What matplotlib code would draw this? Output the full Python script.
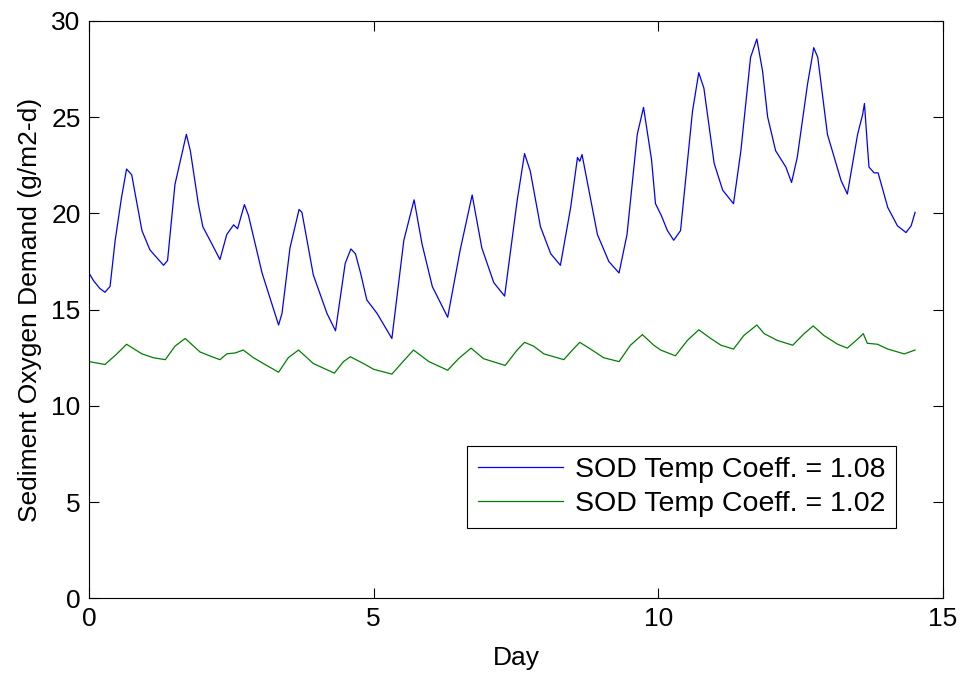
import matplotlib
matplotlib.use("Agg")
import matplotlib.pyplot as plt

plt.rcParams['font.family'] = ['Liberation Sans', 'DejaVu Sans']

# SOD time series, temperature coefficient 1.08
day_108 = [0.00, 0.08, 0.19, 0.28, 0.37, 0.46, 0.57, 0.66, 0.75, 0.93, 1.07, 1.19,
           1.31, 1.38, 1.51, 1.71, 1.78, 1.92, 2.00, 2.16, 2.30, 2.42, 2.54, 2.61,
           2.73, 2.80, 3.04, 3.33, 3.39, 3.53, 3.69, 3.74, 3.94, 4.18, 4.33, 4.50,
           4.60, 4.68, 4.77, 4.88, 5.06, 5.32, 5.53, 5.71, 5.85, 6.03, 6.30, 6.52,
           6.73, 6.90, 7.11, 7.30, 7.52, 7.65, 7.75, 7.93, 8.11, 8.28, 8.46, 8.58,
           8.62, 8.66, 8.93, 9.13, 9.31, 9.45, 9.63, 9.74, 9.88, 9.95, 10.05, 10.16,
           10.27, 10.39, 10.60, 10.71, 10.80, 10.98, 11.13, 11.32, 11.45, 11.62, 11.73, 11.83,
           11.92, 12.06, 12.24, 12.34, 12.44, 12.62, 12.73, 12.80, 12.97, 13.21, 13.32, 13.50,
           13.59, 13.62, 13.67, 13.70, 13.79, 13.86, 14.03, 14.20, 14.35, 14.44, 14.51]
sod_108 = [16.9, 16.5, 16.1, 15.9, 16.2, 18.6, 20.8, 22.3, 22.0, 19.1, 18.1, 17.7,
           17.3, 17.55, 21.5, 24.1, 23.25, 20.5, 19.3, 18.4, 17.6, 18.9, 19.4, 19.2,
           20.45, 19.9, 16.9, 14.2, 14.8, 18.2, 20.2, 20.05, 16.8, 14.8, 13.9, 17.4,
           18.15, 17.9, 16.9, 15.5, 14.8, 13.5, 18.6, 20.7, 18.4, 16.2, 14.6, 18.1,
           20.95, 18.2, 16.4, 15.7, 20.65, 23.1, 22.2, 19.3, 17.9, 17.3, 20.3, 22.9,
           22.7, 23.05, 18.9, 17.5, 16.9, 18.9, 24.1, 25.5, 22.8, 20.5, 19.9, 19.1,
           18.6, 19.1, 25.3, 27.3, 26.5, 22.6, 21.2, 20.5, 23.25, 28.1, 29.05, 27.4,
           25.0, 23.25, 22.4, 21.6, 22.9, 26.7, 28.6, 28.1, 24.1, 21.7, 21.0, 24.1,
           25.15, 25.7, 23.6, 22.4, 22.1, 22.1, 20.3, 19.35, 19.0, 19.35, 20.05]

# SOD time series, temperature coefficient 1.02
day_102 = [0.00, 0.28, 0.49, 0.66, 0.93, 1.13, 1.34, 1.51, 1.69, 1.95, 2.16, 2.30,
           2.42, 2.57, 2.71, 2.89, 3.12, 3.33, 3.50, 3.68, 3.94, 4.31, 4.47, 4.59,
           4.82, 5.00, 5.32, 5.53, 5.70, 5.97, 6.30, 6.49, 6.71, 6.93, 7.31, 7.52,
           7.65, 7.81, 7.99, 8.34, 8.49, 8.62, 8.81, 9.04, 9.31, 9.51, 9.72, 9.92,
           10.04, 10.30, 10.51, 10.71, 10.92, 11.10, 11.32, 11.50, 11.73, 11.86, 12.09, 12.36,
           12.56, 12.72, 12.91, 13.15, 13.32, 13.53, 13.60, 13.67, 13.85, 14.03, 14.32, 14.51]
sod_102 = [12.3, 12.15, 12.7, 13.2, 12.7, 12.5, 12.4, 13.1, 13.5, 12.8, 12.55, 12.4,
           12.7, 12.75, 12.9, 12.5, 12.1, 11.75, 12.5, 12.9, 12.2, 11.7, 12.3, 12.55,
           12.2, 11.9, 11.65, 12.35, 12.9, 12.3, 11.85, 12.45, 13.0, 12.45, 12.1, 12.9,
           13.3, 13.1, 12.7, 12.4, 12.9, 13.3, 12.95, 12.5, 12.3, 13.15, 13.7, 13.15,
           12.9, 12.6, 13.4, 13.95, 13.5, 13.15, 12.95, 13.65, 14.2, 13.75, 13.4, 13.15,
           13.75, 14.15, 13.65, 13.2, 13.0, 13.55, 13.75, 13.25, 13.2, 12.95, 12.7, 12.9]

series_labels = ['SOD Temp Coeff. = 1.08', 'SOD Temp Coeff. = 1.02']
x_ticks = [0, 5, 10, 15]
y_ticks = [0, 5, 10, 15, 20, 25, 30]

fig = plt.figure(figsize=(9.6, 6.77), dpi=100)
ax = fig.add_axes([0.0927, 0.116, 0.8896, 0.8534])

ax.plot(day_108, sod_108, color='#0000ff', linewidth=0.9, label=series_labels[0])
ax.plot(day_102, sod_102, color='#008000', linewidth=0.9, label=series_labels[1])

ax.set_xlim(0, 15)
ax.set_ylim(0, 30)
ax.set_xticks(x_ticks)
ax.set_yticks(y_ticks)
ax.tick_params(direction='in', length=7, width=0.8, top=True, right=True,
               labelsize=19, pad=6)
for spine in ax.spines.values():
    spine.set_linewidth(0.8)

ax.set_xlabel('Day', fontsize=19, labelpad=11)
ax.set_ylabel('Sediment Oxygen Demand (g/m2-d)', fontsize=19, labelpad=7)

leg = ax.legend(loc='lower right', bbox_to_anchor=(0.945, 0.122), fontsize=20.5,
                frameon=True, fancybox=False, edgecolor='black', framealpha=1,
                handlelength=3.0, handletextpad=0.4, labelspacing=0.3,
                borderpad=0.38, borderaxespad=0)
leg.get_frame().set_linewidth(0.8)

fig.savefig('out.png', dpi=100)
